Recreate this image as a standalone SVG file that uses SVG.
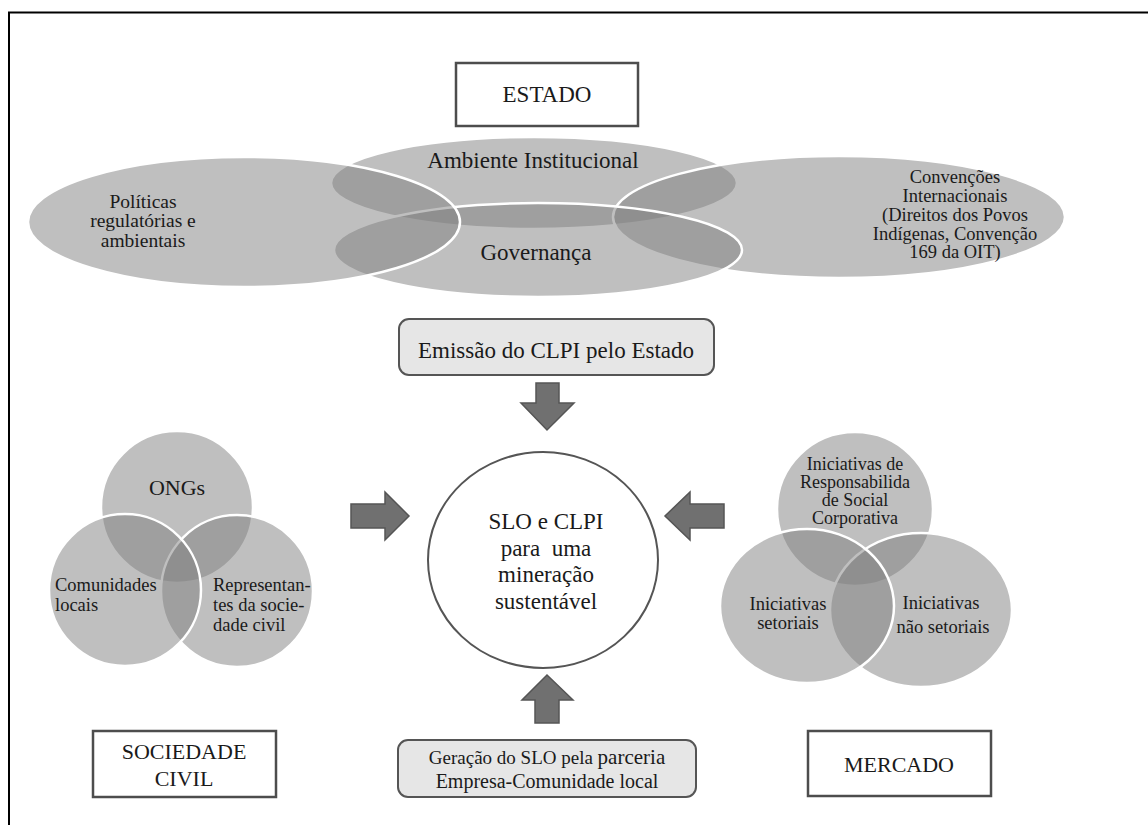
<svg xmlns="http://www.w3.org/2000/svg" width="1148" height="825" viewBox="0 0 1148 825">
<style>
.t{fill:#1a1a1a;}
.m{text-anchor:middle;}
.v{fill:#7f7f7f;fill-opacity:.5;stroke:#fff;stroke-width:2.5;}
.box{fill:#fff;stroke:#4d4d4d;stroke-width:2.5;}
.rbox{fill:#e6e6e6;stroke:#555;stroke-width:2;}
.arr{fill:#707070;stroke:#555;stroke-width:1.5;}
</style>
<rect width="1148" height="825" fill="#fff"/>
<path d="M9 825 V12.5 H1148" fill="none" stroke="#000" stroke-width="2"/>
<g font-family="'Liberation Serif', Tinos, 'DejaVu Serif', serif">
<g id="estado">
<rect class="box" x="456" y="63" width="182" height="63"/>
<text class="t m" x="547" y="102" font-size="23">ESTADO</text>
</g>

<g id="estado-venn">
<g id="ambiente"><ellipse class="v" cx="534" cy="183" rx="203" ry="46"/></g>
<g id="convencoes"><ellipse class="v" cx="839" cy="217" rx="226" ry="61"/></g>
<g id="governanca"><ellipse class="v" cx="538" cy="250" rx="204" ry="47"/></g>
<g id="politicas"><ellipse class="v" cx="244" cy="222" rx="216" ry="65"/></g>
<text class="t m" x="533" y="168" font-size="23">Ambiente Institucional</text>
<text class="t m" x="536" y="260" font-size="23">Governança</text>
<text class="t m" font-size="19.5"><tspan x="143" y="207.5">Políticas</tspan><tspan x="143" y="227">regulatórias e</tspan><tspan x="143" y="246.5">ambientais</tspan></text>
<text class="t m" font-size="18.5"><tspan x="955" y="183">Convenções</tspan><tspan x="955" y="202">Internacionais</tspan><tspan x="955" y="221">(Direitos dos Povos</tspan><tspan x="955" y="239.5">Indígenas, Convenção</tspan><tspan x="955" y="258">169 da OIT)</tspan></text>
</g>

<g id="emissao">
<rect class="rbox" x="399" y="319" width="315" height="56" rx="10"/>
<text class="t m" x="556" y="358" font-size="23">Emissão do CLPI pelo Estado</text>
</g>

<g id="sociedade-venn">
<g id="ongs"><circle class="v" cx="177" cy="507" r="76"/></g>
<g id="representantes"><circle class="v" cx="237" cy="591" r="76"/></g>
<g id="comunidades"><circle class="v" cx="125" cy="590" r="76"/></g>
<text class="t m" x="177" y="495" font-size="22">ONGs</text>
<text class="t" font-size="18.5"><tspan x="55" y="591">Comunidades</tspan><tspan x="55" y="611">locais</tspan></text>
<text class="t" font-size="18.5"><tspan x="213" y="591">Representan-</tspan><tspan x="213" y="611">tes da socie-</tspan><tspan x="213" y="631">dade civil</tspan></text>
</g>

<g id="mercado-venn">
<g id="rsc"><ellipse class="v" cx="855" cy="509" rx="78" ry="77"/></g>
<g id="nao-setoriais"><ellipse class="v" cx="921" cy="610" rx="91" ry="77"/></g>
<g id="setoriais"><ellipse class="v" cx="807" cy="606" rx="87" ry="77"/></g>
<text class="t m" font-size="18"><tspan x="855" y="470">Iniciativas de</tspan><tspan x="855" y="488">Responsabilida</tspan><tspan x="855" y="506">de Social</tspan><tspan x="855" y="524">Corporativa</tspan></text>
<text class="t m" font-size="18.5"><tspan x="788" y="610">Iniciativas</tspan><tspan x="788" y="628.5">setoriais</tspan></text>
<text class="t m" font-size="18.5"><tspan x="941" y="609">Iniciativas</tspan><tspan x="943" y="633">não setoriais</tspan></text>
</g>

<g id="centro">
<ellipse cx="543" cy="560" rx="115" ry="108" fill="#fff" stroke="#555" stroke-width="2"/>
<text class="t m" font-size="23" xml:space="preserve"><tspan x="546" y="529">SLO e CLPI</tspan><tspan x="546" y="556">para  uma</tspan><tspan x="546" y="582">mineração</tspan><tspan x="546" y="609">sustentável</tspan></text>
</g>

<g id="connectors">
<path class="arr" d="M536 383 H559 V403 H574 L547 430 L521 403 H536 Z"/>
<path class="arr" d="M535 723 V700 H522 L547 675 L573 700 H559 V723 Z"/>
<path class="arr" d="M351 504 H385 V492 L409 516 L385 540 V528 H351 Z"/>
<path class="arr" d="M724 504 H690 V492 L665 516 L690 540 V528 H724 Z"/>
</g>

<g id="sociedade">
<rect class="box" x="93" y="731" width="183" height="66"/>
<text class="t m" font-size="22"><tspan x="184" y="759">SOCIEDADE</tspan><tspan x="184" y="786">CIVIL</tspan></text>
</g>

<g id="geracao">
<rect class="rbox" x="398" y="740" width="298" height="57" rx="10"/>
<text class="t m" font-size="19"><tspan x="547" y="764">Geração do SLO pela <tspan font-size="21">parceria</tspan></tspan><tspan x="547" y="788" font-size="20">Empresa-Comunidade local</tspan></text>
</g>

<g id="mercado">
<rect class="box" x="808" y="731" width="183" height="65"/>
<text class="t m" x="899" y="772" font-size="22">MERCADO</text>
</g>
</g>
</svg>
